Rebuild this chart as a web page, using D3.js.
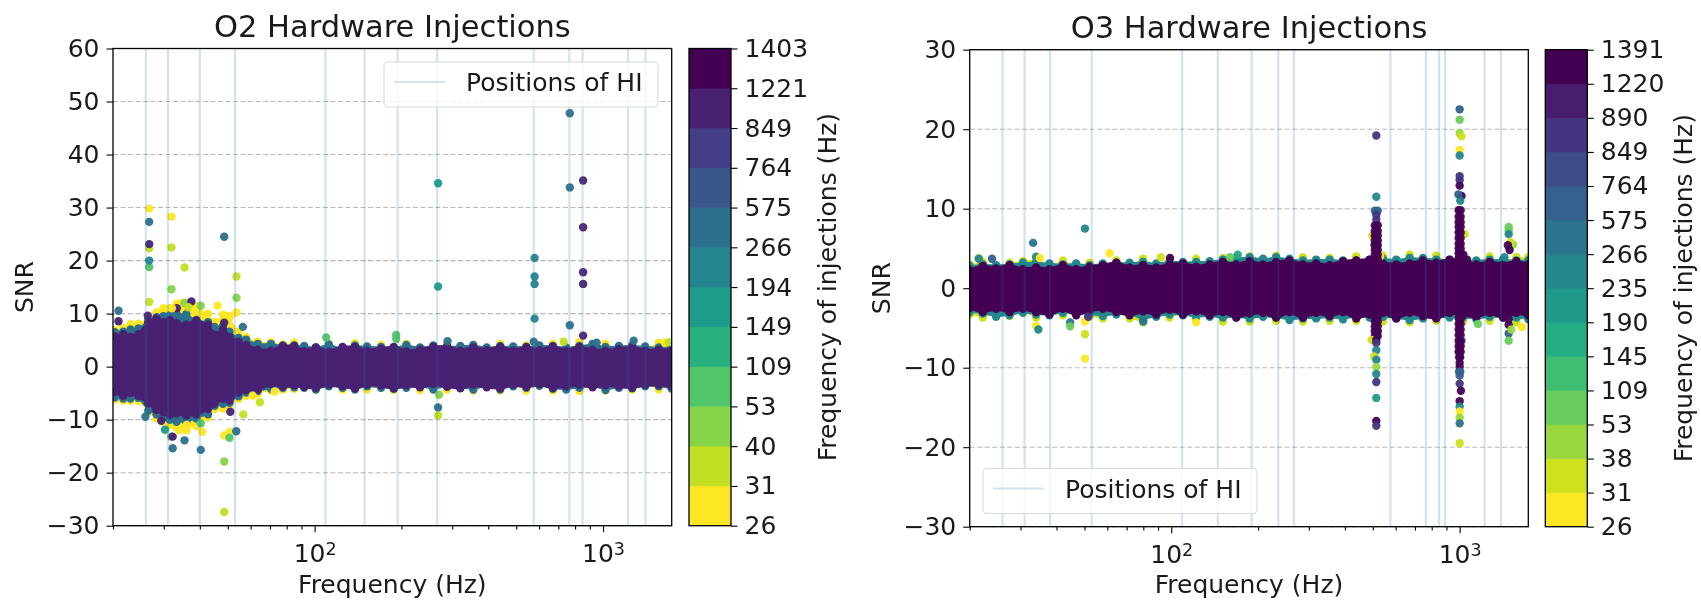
<!DOCTYPE html>
<html>
<head>
<meta charset="utf-8">
<script src="https://cdn.jsdelivr.net/npm/d3@7"></script>
<style>
  html, body { margin: 0; padding: 0; background: #fff; }
  svg { display: block; filter: blur(0.45px); }
  text { font-family: "DejaVu Sans", sans-serif; fill: #1a1a1a; }
</style>
</head>
<body>
<svg id="chart" width="1701" height="601"></svg>
<script>
// injection frequencies (colorbar labels and vertical line positions)
const o2Injections = [26, 31, 40, 53, 109, 149, 194, 266, 575, 764, 849, 1221, 1403]
const o3Injections = [26, 31, 38, 53, 109, 145, 190, 235, 266, 575, 764, 849, 890, 1220, 1391]

const xMajorTicks = [100, 1000]
const xMinorTicks = [20, 30, 40, 50, 60, 70, 80, 90, 200, 300, 400, 500, 600, 700, 800, 900]
const o2YTicks = [60, 50, 40, 30, 20, 10, 0, -10, -20, -30]
const o3YTicks = [30, 20, 10, 0, -10, -20, -30]

// edge of the dense cloud of background points, read along frequency
const o2EdgeFreq = [20.3, 21.7, 23, 24.5, 26.5, 28.3, 29.9, 31.5, 33.2, 35.9, 38.9, 42.7, 45, 48.1, 50.7, 54.5, 57.9, 63.5, 70.6, 77.6, 85, 92,
  101, 112, 125, 138, 152, 170, 188, 208, 232, 258, 288, 320, 355, 395, 440, 488, 542, 602, 670, 745, 828, 920, 1020, 1135, 1262, 1400, 1560, 1730]
const o2CoreHi = [5.7, 6.1, 5.6, 6.1, 8.3, 9.1, 8.4, 8.8, 8.2, 7.9, 8.7, 7.9, 6.0, 7.0, 5.6, 4.7, 4.1, 3.2, 3.0, 3.9, 3.9, 2.9,
  3.6, 2.8, 3.7, 3.7, 3.0, 3.4, 3.7, 2.9, 3.2, 3.7, 3.8, 3.0, 3.6, 3.1, 3.7, 3.0, 3.7, 3.1, 3.8, 3.0, 3.7, 3.2, 3.0, 3.3, 3.7, 3.0, 3.2, 3.2]
const o2CoreLo = [-4.8, -5.5, -5.0, -5.5, -6.9, -8.2, -8.6, -9.1, -8.8, -9.2, -9.0, -8.0, -7.0, -6.0, -6.4, -4.9, -4.4, -4.3, -3.3, -3.8, -3.5, -3.8,
  -4.0, -3.4, -3.7, -4.1, -3.4, -3.5, -4.1, -3.5, -3.9, -3.3, -3.8, -4.1, -3.4, -3.9, -4.1, -3.4, -3.8, -3.3, -4.0, -3.7, -3.4, -3.9, -3.5, -3.7, -4.0, -3.4, -3.4, -3.7]
const o2TealHi = [6.5, 6.6, 7.0, 7.2, 8.8, 9.3, 9.5, 9.7, 10.0, 9.9, 8.8, 8.4, 7.5, 7.6, 6.6, 5.4, 5.1, 4.3, 4.3, 4.0, 4.0, 3.9,
  3.6, 4.2, 3.4, 4.0, 3.8, 3.7, 3.6, 4.1, 3.6, 4.0, 3.8, 3.9, 4.1, 3.6, 3.9, 3.8, 3.7, 4.0, 3.9, 3.6, 3.9, 4.3, 3.7, 3.9, 4.0, 3.8, 3.6, 3.8]
const o2TealLo = [-5.8, -6.0, -6.0, -5.9, -8.3, -9.0, -9.6, -10.0, -10.4, -10.5, -9.8, -9.0, -7.4, -7.0, -6.8, -5.6, -4.9, -4.6, -4.2, -4.0, -3.9, -4.0,
  -4.3, -3.7, -4.0, -4.3, -3.7, -4.0, -4.2, -4.0, -3.7, -4.3, -3.7, -4.0, -4.3, -3.7, -4.3, -3.7, -4.0, -3.6, -4.2, -4.3, -4.0, -3.7, -4.4, -4.0, -4.1, -3.7, -3.7, -4.2]
const o2YellowHi = [6.9, 7.3, 8.0, 8.1, 9.2, 10.2, 11.0, 11.0, 11.8, 12.0, 11.4, 10.0, 8.4, 9.8, 9.3, 6.6, 5.6, 4.7, 4.6, 4.2, 4.5, 3.5,
  3.4, 4.3, 3.2, 4.4, 3.2, 4.1, 3.4, 4.3, 3.3, 3.4, 4.2, 3.5, 4.1, 3.4, 4.3, 3.2, 4.0, 3.4, 4.3, 3.3, 4.6, 3.5, 4.3, 3.4, 4.1, 3.4, 4.5, 4.5]
const o2YellowLo = [-6.2, -6.4, -6.4, -6.5, -8.6, -9.8, -10.4, -11.0, -11.5, -11.7, -11.2, -9.6, -8.0, -7.9, -7.3, -6.1, -5.5, -5.1, -4.5, -4.3, -4.2, -3.6,
  -4.3, -3.5, -4.3, -3.4, -4.3, -3.5, -4.4, -3.5, -4.4, -3.6, -4.3, -3.4, -4.5, -3.5, -4.5, -3.4, -4.5, -3.5, -4.5, -3.4, -4.6, -3.5, -4.5, -3.4, -4.3, -3.5, -4.3, -3.4]

const o3EdgeFreq = [20, 22.2, 24.7, 27.5, 30.6, 34, 37.8, 42.1, 46.8, 52.1, 57.9, 64.5, 71.7, 79.8, 88.7, 98.7, 109.8, 122, 135.9, 151, 168, 187,
  208, 231, 257, 286, 318, 354, 394, 438, 487, 542, 603, 671, 746, 830, 923, 1027, 1142, 1271, 1414, 1573, 1730]
const o3CoreHi = [2.3, 2.8, 2.5, 2.9, 2.4, 2.6, 2.4, 2.9, 2.4, 2.7, 2.9, 3.2, 2.6, 2.9, 2.6, 3.0, 3.1, 2.7, 3.0, 3.3, 3.0, 3.4,
  3.0, 3.3, 3.5, 3.0, 3.1, 2.9, 3.4, 3.5, 3.6, 3.1, 3.0, 3.1, 3.5, 3.2, 3.6, 3.5, 3.0, 3.3, 3.0, 3.4, 3.0]
const o3CoreLo = [-2.5, -3.0, -2.6, -3.0, -2.6, -3.0, -3.3, -2.6, -3.4, -2.8, -2.6, -3.0, -3.4, -2.9, -3.3, -2.7, -3.3, -2.9, -3.4, -3.0, -3.7, -3.2,
  -3.1, -3.7, -3.0, -3.7, -3.1, -3.5, -3.0, -3.8, -3.3, -3.1, -3.8, -3.1, -3.5, -3.8, -3.1, -3.4, -3.6, -3.1, -3.7, -3.1, -3.4]
const o3TealHi = [2.8, 3.0, 2.9, 3.0, 3.2, 3.3, 3.1, 3.0, 3.1, 2.9, 3.1, 3.2, 3.2, 3.3, 3.1, 3.4, 3.3, 3.3, 3.4, 3.6, 3.8, 3.9,
  3.7, 3.9, 3.7, 3.5, 3.6, 3.6, 3.5, 3.5, 3.6, 3.7, 3.6, 3.8, 3.8, 3.6, 3.6, 3.5, 3.5, 3.6, 3.6, 3.5, 3.5]
const o3TealLo = [-3.0, -3.2, -3.6, -3.4, -3.1, -3.3, -3.4, -3.1, -3.2, -3.3, -3.5, -3.3, -3.3, -3.9, -3.6, -3.3, -3.4, -3.6, -3.6, -3.7, -3.7, -3.8,
  -3.6, -3.7, -4.0, -3.8, -3.8, -3.7, -3.9, -3.6, -3.7, -3.6, -3.8, -4.0, -3.8, -3.7, -3.7, -3.7, -3.9, -3.6, -3.7, -3.7, -3.9]
const o3YellowHi = [3.0, 3.3, 2.8, 3.2, 3.4, 3.7, 2.9, 3.5, 2.9, 3.2, 2.9, 3.5, 3.0, 3.7, 2.9, 3.5, 3.0, 3.7, 3.0, 3.8, 3.2, 4.0,
  3.3, 4.1, 3.2, 3.9, 3.2, 3.8, 3.3, 4.0, 3.2, 4.1, 3.3, 4.2, 3.4, 4.1, 3.3, 3.9, 3.3, 4.0, 3.3, 3.9, 3.9]
const o3YellowLo = [-3.3, -3.7, -3.0, -3.5, -3.0, -3.7, -3.0, -3.4, -3.0, -3.6, -3.8, -3.0, -3.8, -4.3, -3.2, -3.7, -3.2, -3.9, -3.2, -4.2, -3.3, -4.2,
  -3.3, -4.1, -3.3, -4.2, -3.3, -4.1, -3.3, -4.1, -3.4, -4.2, -3.4, -4.3, -3.4, -4.1, -3.4, -4.2, -3.4, -4.1, -3.4, -4.3, -3.4]

// individual loud triggers: frequency (Hz), SNR, injection frequency (Hz)
const o2Outliers = [
  [26.7, 29.8, 26], [26.7, 27.3, 266], [26.7, 22.3, 31], [26.7, 23.1, 849], [26.7, 18.8, 53], [26.7, 20, 194], [26.7, 12.2, 31],
  [31.9, 28.3, 26], [31.9, 22.5, 31], [31.9, 14.6, 40], [35.4, 18.7, 31], [34.5, 12, 26], [35.4, 12, 40], [37.4, 12.3, 849],
  [48.6, 24.5, 266], [53.6, 17, 31], [53.6, 13, 40], [20.9, 10.55, 266], [20.9, 8.55, 849], [26.4, 9.6, 849], [33.3, 11, 849],
  [40.3, 11.5, 40], [32, 11, 26], [36.5, 11.2, 31], [46.1, 11.5, 26], [53.6, 10.2, 26], [50.5, 9.6, 26], [48.6, 8.3, 849], [56.4, 7.5, 266],
  [25.9, -9.45, 266], [29.4, -10.2, 849], [30.3, -11.9, 149], [31.8, -13.2, 53], [32.2, -13.2, 849], [32.2, -15.4, 266], [35.4, -13.9, 266],
  [40.3, -15.7, 266], [40.8, -12.3, 26], [40.3, -10.7, 53], [34, -12, 26], [36, -12, 26], [36, -11, 26], [48.6, -13, 26], [50.7, -12.3, 26], [50.7, -13.4, 53],
  [53.5, -12.2, 266], [51, -8.5, 849], [56.6, -9, 31], [64.6, -6.7, 31], [61, -5.5, 26], [72.7, -4.7, 26], [48.6, -17.9, 40], [48.6, -27.4, 31],
  [109.7, 5.5, 53], [191.8, 5.96, 53], [191.8, 5.2, 53], [767, 47.8, 266], [268, 34.6, 149], [767, 33.8, 266], [853, 35.1, 849], [853, 26.3, 849],
  [579, 20.5, 194], [579, 17, 194], [579, 15.6, 194], [268, 15.1, 149], [853, 17.8, 849], [853, 15.6, 849], [579, 9.05, 194], [767, 7.8, 266], [853, 5.85, 849],
  [268, -7.7, 266], [268, -9.2, 31], [289, 4.8, 266], [1277, 4.9, 266], [575, 4.7, 266], [730, 4.7, 31], [950, 4.5, 266], [1640, 4.5, 26], [1690, 4.6, 31], [270, -5.3, 40]
]
const o3Outliers = [
  [21.5, 3.76, 31], [21.5, 3.7, 235], [23.9, 3.7, 575], [33.2, 5.7, 266], [34, 3.96, 235], [35, 3.8, 26], [50.2, 7.5, 235], [61.1, 4.4, 26],
  [99, 3.8, 1220], [92, 3.9, 31], [170, 4.2, 145], [160, 3.9, 53], [34, -4.75, 26], [34.6, -5.2, 235], [44.6, -4.3, 266], [44.6, -4.8, 53],
  [50.2, -5.8, 31], [50.2, -8.85, 26], [50.2, -4.2, 26], [51.5, -3.6, 849], [80, -4.2, 266], [122, -4.3, 26], [1157, -4.5, 53], [1645, -4.9, 26],
  [514, 19.2, 849], [514, 11.5, 235], [498, 6.6, 31], [505, 5.5, 53], [530, 4, 26], [508, 9.75, 575], [520, 9.75, 575], [514, 9.2, 849], [514, 8.6, 849],
  [508, 7.9, 1220], [520, 7.9, 1220], [508, 7.2, 1220], [520, 7.2, 1220], [508, 6.6, 1220], [520, 6.6, 1220], [508, 6, 1220], [520, 6, 1220],
  [508, 5.4, 1220], [520, 5.4, 1220], [508, 4.8, 1220], [520, 4.8, 1220], [508, 4.2, 1220], [520, 4.2, 1220], [508, 3.6, 1220], [520, 3.6, 1220],
  [1000, 22.5, 575], [1000, 21.2, 53], [1000, 19.5, 38], [1015, 19.1, 31], [1000, 17.4, 26], [1000, 16.7, 235], [1000, 14.1, 849], [1000, 13.6, 849],
  [1000, 12.9, 1220], [1015, 11.6, 1220], [1005, 11, 235], [990, 11.8, 575], [1040, 6.8, 31], [1030, 4.2, 1220], [1060, 3.6, 1220],
  [992, 9.8, 1220], [1008, 9.8, 1220], [992, 9, 1220], [1008, 9, 1220], [992, 8.3, 1220], [1008, 8.3, 1220], [992, 7.7, 1220], [1008, 7.7, 1220],
  [992, 7, 1220], [1008, 7, 1220], [992, 6.3, 1220], [1008, 6.3, 1220], [992, 5.6, 1220], [1008, 5.6, 1220], [992, 5, 1220], [1008, 5, 1220],
  [992, 4.4, 1220], [1008, 4.4, 1220], [992, 3.8, 1220], [1008, 3.8, 1220],
  [1479, 7.7, 53], [1479, 7.3, 53], [1479, 6.8, 235], [1530, 5.5, 38], [1500, 5.8, 31], [1470, 5.4, 1220], [1490, 4.8, 1220], [1430, 3.9, 235],
  [508, -3.6, 1220], [520, -3.6, 1220], [508, -4.2, 1220], [520, -4.2, 1220], [508, -4.8, 1220], [520, -4.8, 1220], [508, -5.4, 1220], [520, -5.4, 1220], [508, -6, 1220], [520, -6, 1220],
  [495, -6.5, 31], [514, -6.5, 1220], [514, -6.9, 849], [514, -7.8, 235], [505, -8.6, 31],
  [514, -9, 235], [514, -9.9, 38], [514, -10.8, 235], [514, -11.8, 849], [514, -13.8, 190], [514, -16.7, 1220], [514, -17.3, 849],
  [992, -3.8, 1220], [1008, -3.8, 1220], [992, -4.5, 1220], [1008, -4.5, 1220], [992, -5.2, 1220], [1008, -5.2, 1220], [992, -5.9, 1220], [1008, -5.9, 1220],
  [1015, -6.6, 575], [992, -6.6, 1220], [1008, -6.6, 1220], [992, -7.3, 1220], [1008, -7.3, 1220], [992, -8, 1220], [1008, -8, 1220], [996, -8.7, 1220], [1004, -8.7, 1220], [1000, -9.4, 1220], [1000, -9.9, 1220],
  [995, -10.5, 575], [1005, -10.5, 575], [1000, -11, 575], [1000, -12, 849], [1010, -12.9, 1220], [1000, -14.2, 1220], [1000, -14.9, 235], [1000, -15.5, 26], [1000, -16.3, 38], [1000, -17, 266], [1000, -19.5, 31],
  [1479, -3.9, 1220], [1479, -4.6, 1220], [1479, -5.7, 575], [1479, -6.6, 53], [1510, -5.2, 38]
]

const dotRadius = 4.2

function drawPanel(svg, p) {
  const x = d3.scaleLog().domain([20, 1730]).range([p.left, p.right])
  const y = d3.scaleLinear().domain(p.yDomain).range([p.bottom, p.top])

  // one colour per colorbar band, viridis reversed
  const bandCount = p.labels.length - 1
  const bandColors = d3.range(bandCount).map(i => d3.interpolateViridis(1 - i / (bandCount - 1)))
  const color = d3.scaleThreshold().domain(p.labels.slice(1, -1)).range(bandColors)

  const clipId = 'clip-' + p.name
  svg.append('clipPath').attr('id', clipId)
    .append('rect')
    .attr('x', p.left).attr('y', p.top)
    .attr('width', p.right - p.left).attr('height', p.bottom - p.top)

  // y grid
  svg.append('g').selectAll('line')
    .data(p.yTicks)
    .join('line')
    .attr('x1', p.left)
    .attr('x2', p.right)
    .attr('y1', d => y(d))
    .attr('y2', d => y(d))
    .attr('stroke', '#000')
    .attr('stroke-opacity', 0.28)
    .attr('stroke-width', 1.1)
    .attr('stroke-dasharray', '5,2.5')

  const plot = svg.append('g').attr('clip-path', `url(#${clipId})`)

  // cloud: outer layers first, core last
  p.layers.forEach(layer => {
    const rows = p.edgeFreq.map((f, i) => ({ f, hi: layer.hi[i], lo: layer.lo[i] }))
    const area = d3.area().x(d => x(d.f)).y0(d => y(d.lo)).y1(d => y(d.hi))
    const fill = color(layer.hz)
    plot.append('path')
      .attr('d', area(rows))
      .attr('fill', fill)
      .attr('stroke', fill)
      .attr('stroke-width', layer.edge)
      .attr('stroke-linejoin', 'round')
    const g = plot.append('g')
    g.selectAll('.hi').data(rows).join('circle').attr('class', 'hi')
      .attr('cx', d => x(d.f)).attr('cy', d => y(d.hi)).attr('r', dotRadius).attr('fill', fill)
    g.selectAll('.lo').data(rows).join('circle').attr('class', 'lo')
      .attr('cx', d => x(d.f)).attr('cy', d => y(d.lo)).attr('r', dotRadius).attr('fill', fill)
  })

  // loud triggers
  plot.append('g').selectAll('circle')
    .data(p.outliers)
    .join('circle')
    .attr('cx', d => x(d[0]))
    .attr('cy', d => y(d[1]))
    .attr('r', dotRadius)
    .attr('fill', d => color(d[2]))
    .attr('fill-opacity', 0.95)

  // positions of the hardware injections
  plot.append('g').selectAll('line')
    .data(p.labels)
    .join('line')
    .attr('x1', d => x(d))
    .attr('x2', d => x(d))
    .attr('y1', p.top)
    .attr('y2', p.bottom)
    .attr('stroke', '#1f77b4')
    .attr('stroke-opacity', 0.2)
    .attr('stroke-width', 2.2)

  // axes
  const yAxis = d3.axisLeft(y).tickValues(p.yTicks).tickSize(6.5).tickPadding(7).tickFormat(d3.format('d'))
  const gy = svg.append('g').attr('transform', `translate(${p.left},0)`).call(yAxis)
  gy.select('.domain').remove()

  const minorAxis = d3.axisBottom(x).tickValues(xMinorTicks).tickSize(3.8).tickFormat('')
  const gMinor = svg.append('g').attr('transform', `translate(0,${p.bottom})`).call(minorAxis)
  gMinor.select('.domain').remove()

  const majorAxis = d3.axisBottom(x).tickValues(xMajorTicks).tickSize(6.5).tickPadding(12).tickFormat(d => '10')
  const gMajor = svg.append('g').attr('transform', `translate(0,${p.bottom})`).call(majorAxis)
  gMajor.select('.domain').remove()
  gMajor.selectAll('.tick text')
    .append('tspan')
    .attr('dy', '-0.42em')
    .style('font-size', '17.5px')
    .text(d => Math.log10(d))

  svg.selectAll('.tick text').style('font-size', '25px')
  svg.selectAll('.tick line').attr('stroke', '#000').attr('stroke-width', 1.1)
  gMajor.selectAll('.tick tspan').style('font-size', '17.5px')

  svg.append('rect')
    .attr('x', p.left).attr('y', p.top)
    .attr('width', p.right - p.left).attr('height', p.bottom - p.top)
    .attr('fill', 'none')
    .attr('stroke', '#000')
    .attr('stroke-width', 1.3)

  // legend
  const lg = svg.append('g')
  lg.append('rect')
    .attr('x', p.legend.x).attr('y', p.legend.y)
    .attr('width', 274).attr('height', 45).attr('rx', 4)
    .attr('fill', '#fff').attr('fill-opacity', 0.8)
    .attr('stroke', '#d9d9d9').attr('stroke-width', 1.1)
  lg.append('line')
    .attr('x1', p.legend.x + 10).attr('x2', p.legend.x + 61)
    .attr('y1', p.legend.y + 20).attr('y2', p.legend.y + 20)
    .attr('stroke', '#1f77b4').attr('stroke-opacity', 0.2).attr('stroke-width', 2.2)
  lg.append('text')
    .attr('x', p.legend.x + 82).attr('y', p.legend.y + 29)
    .style('font-size', '25px')
    .text('Positions of HI')

  // labels
  svg.append('text')
    .attr('x', (p.left + p.right) / 2).attr('y', p.titleY)
    .attr('text-anchor', 'middle')
    .style('font-size', '30.5px')
    .text(p.title)
  svg.append('text')
    .attr('x', (p.left + p.right) / 2).attr('y', 593)
    .attr('text-anchor', 'middle')
    .style('font-size', '25px')
    .text('Frequency (Hz)')
  svg.append('text')
    .attr('transform', `translate(${p.yLabelX},${(p.top + p.bottom) / 2}) rotate(-90)`)
    .attr('text-anchor', 'middle')
    .style('font-size', '25px')
    .text('SNR')

  // colorbar, equal height bands
  const barY = d3.scalePoint().domain(p.labels).range([p.bottom, p.top])
  const step = barY.step()
  svg.append('g').selectAll('rect')
    .data(p.labels.slice(0, -1))
    .join('rect')
    .attr('x', p.barX)
    .attr('y', d => barY(d) - step - 0.3)
    .attr('width', 42)
    .attr('height', step + 0.6)
    .attr('fill', (d, i) => bandColors[i])
  svg.append('rect')
    .attr('x', p.barX).attr('y', p.top)
    .attr('width', 42).attr('height', p.bottom - p.top)
    .attr('fill', 'none').attr('stroke', '#000').attr('stroke-width', 1.3)

  const barAxis = d3.axisRight(barY).tickSize(6.5).tickPadding(7)
  const gBar = svg.append('g').attr('transform', `translate(${p.barX + 42},0)`).call(barAxis)
  gBar.select('.domain').remove()
  gBar.selectAll('.tick text').style('font-size', '25px')
  gBar.selectAll('.tick line').attr('stroke', '#000').attr('stroke-width', 1.1)

  svg.append('text')
    .attr('transform', `translate(${p.barLabelX},${(p.top + p.bottom) / 2}) rotate(-90)`)
    .attr('text-anchor', 'middle')
    .style('font-size', '25px')
    .text('Frequency of injections (Hz)')
}

const svg = d3.select('#chart')

drawPanel(svg, {
  name: 'o2',
  title: 'O2 Hardware Injections',
  titleY: 37,
  left: 113, right: 671.7, top: 48.5, bottom: 525.7,
  yDomain: [-30, 60],
  yTicks: o2YTicks,
  labels: o2Injections,
  edgeFreq: o2EdgeFreq,
  layers: [
    { hz: 26, hi: o2YellowHi, lo: o2YellowLo, edge: 0 },
    { hz: 266, hi: o2TealHi, lo: o2TealLo, edge: 1 },
    { hz: 849, hi: o2CoreHi, lo: o2CoreLo, edge: 3 }
  ],
  outliers: o2Outliers,
  legend: { x: 384, y: 62 },
  yLabelX: 33,
  barX: 689,
  barLabelX: 836
})

drawPanel(svg, {
  name: 'o3',
  title: 'O3 Hardware Injections',
  titleY: 38,
  left: 969.7, right: 1528.3, top: 49.7, bottom: 526.7,
  yDomain: [-30, 30],
  yTicks: o3YTicks,
  labels: o3Injections,
  edgeFreq: o3EdgeFreq,
  layers: [
    { hz: 31, hi: o3YellowHi, lo: o3YellowLo, edge: 0 },
    { hz: 235, hi: o3TealHi, lo: o3TealLo, edge: 1 },
    { hz: 1220, hi: o3CoreHi, lo: o3CoreLo, edge: 3 }
  ],
  outliers: o3Outliers,
  legend: { x: 983, y: 468.5 },
  yLabelX: 890,
  barX: 1545.3,
  barLabelX: 1692
})
</script>
</body>
</html>
